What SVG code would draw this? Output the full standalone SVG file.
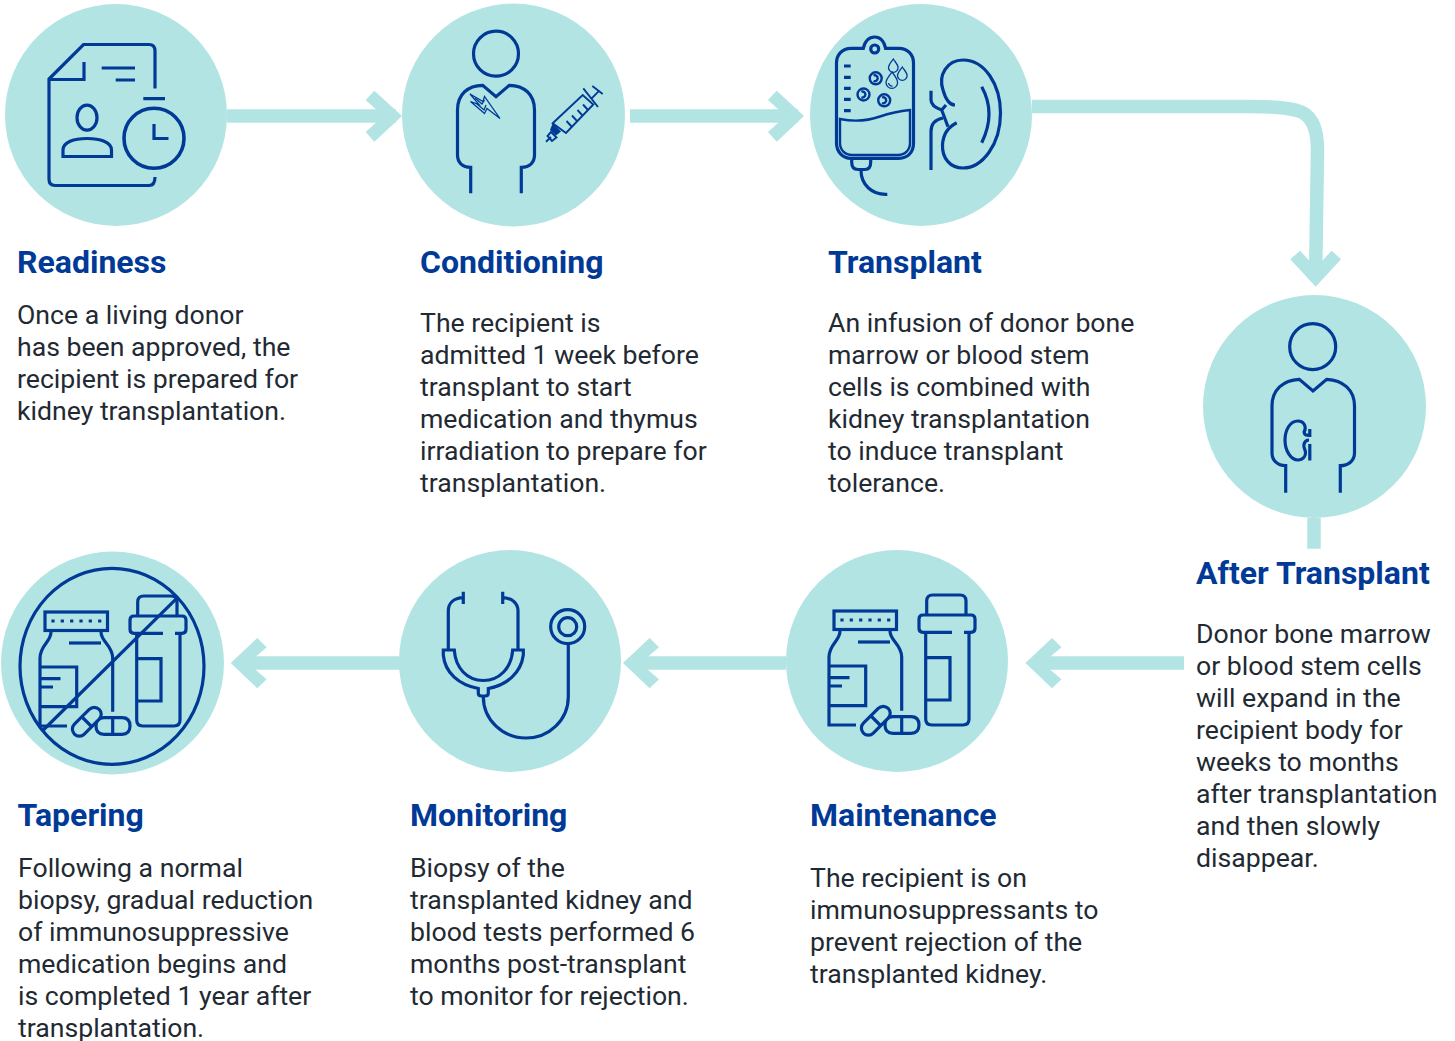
<svg xmlns="http://www.w3.org/2000/svg" width="1455" height="1041" viewBox="0 0 1455 1041">
<style>
.c{fill:#b2e4e3}
.l{fill:none;stroke:#b2e4e3;stroke-width:13.5}
.a{fill:#b2e4e3}
.i{fill:none;stroke:#003a96;stroke-width:3.2}
.t{fill:none;stroke:#003a96;stroke-width:1.3}
.s{fill:none;stroke:#003a96;stroke-width:2.4}
.y{fill:none;stroke:#003a96;stroke-width:1.9}
text{font-family:Roboto,"Liberation Sans",sans-serif}
.h{font-size:32px;font-weight:700;fill:#003a96}
.b{font-size:26.65px;fill:#1f2a33}
</style>
<defs>
<g id="meds">
<g class="i">
<rect x="834" y="611" width="62.5" height="18.5"/>
<path d="M842 620h.01M851.3 620h.01M860.7 620h.01M870 620h.01M879.3 620h.01M888.7 620h.01" stroke-width="3.2" stroke-linecap="square"/>
<path d="M840 629.5V631C840 641 829 644 829 657V725H856"/>
<path d="M890 629.5V631C890 641 901.7 644 901.7 657V710.7"/>
<path d="M858 642H890"/>
<path d="M829 666H865.7V705.7H829M829 677.7H849.5M829 686H842"/>
<path d="M926.7 615V601Q926.7 595 932.7 595H960Q966 595 966 601V615"/>
<path d="M952 632.3H923Q919 632.3 919 628.3V619Q919 615 923 615H971Q975 615 975 619V628.3Q975 632.3 971 632.3H964"/>
<path d="M925.7 632.3V719Q925.7 725 931.7 725H963Q969 725 969 719V632.3"/>
<path d="M925.7 657.7H950V700H925.7"/>
<path d="M893 733.3H911Q919 733.3 919 725T911 716.7H893Q885 716.7 885 725T893 733.3ZM901.7 716.700V733.300"/>
<rect x="858.300" y="713.700" width="35" height="14" rx="7" transform="rotate(-45 875.800 720.700)" fill="#b2e4e3"/>
<path d="M871 716L880.500 725.500"/>
</g>
</g>
</defs>

<g id="connectors">
<path class="l" d="M227 116H396"/>
<polygon class="a" points="365.7,100 374.3,90.7 402,116 374.3,141.7 365.7,132 376.7,122 376.7,110"/>
<path class="l" d="M630 116H798"/>
<polygon class="a" points="768,100 776.7,90.7 804,116 776.7,141.7 768,132 779,122 779,110"/>
<path class="l" d="M1032 106.500H1250C1275 106.500 1288 107.500 1297 110.500C1312 114 1317.500 130 1317.500 150L1315.800 262"/>
<polygon class="a" points="1290.300,259.300 1300,250.700 1309.300,260.700 1322.300,260.700 1331.700,250.700 1341,259.300 1315.700,286.700"/>
<path class="l" d="M1314 518V548.700"/>
<path class="l" d="M1184 663H1035"/>
<polygon class="a" points="1025.500,663 1052,638 1061.400,647.300 1050,657 1050,669.500 1061.400,679.300 1052,688.300"/>
<path class="l" d="M786 663H632"/>
<polygon class="a" points="623,663 649.600,638 659,647.300 647.600,657 647.600,669.500 659,679.300 649.600,688.300"/>
<path class="l" d="M400 663H240"/>
<polygon class="a" points="230.700,663 257.300,638 266.700,647.300 255.300,657 255.300,669.500 266.700,679.300 257.300,688.300"/>
</g>

<g id="readiness">
<circle class="c" cx="116" cy="115" r="111"/>
<g class="i">
<path d="M155 88.500V51Q155 44.500 149 44.500H83.500L49 79V179Q49 185.500 55 185.500H149Q155 185.500 155 177"/>
<path d="M84 62V79.500H49M101.700 68H135M115.700 80H135M143.300 98.700H165"/>
<circle cx="154" cy="138.300" r="30" stroke-width="3.600"/>
<path d="M154 124V138.500H168.500"/>
<ellipse cx="87" cy="117.700" rx="10" ry="12.500"/>
<path d="M63 156.500H111.500V150C111.500 142 100 138.500 87 138.500S63 142 63 150Z"/>
</g>
<text class="h" x="17" y="273">Readiness</text>
<text class="b"><tspan x="17" y="324">Once a living donor</tspan><tspan x="17" y="356">has been approved, the</tspan><tspan x="17" y="388">recipient is prepared for</tspan><tspan x="17" y="420">kidney transplantation.</tspan></text>
</g>

<g id="conditioning">
<circle class="c" cx="513.500" cy="115" r="111.500"/>
<g class="i">
<circle cx="496" cy="53.700" r="22.500"/>
<path d="M470.700 193.300V167.300C462 167.300 457.500 162 457.500 155V110C457.500 94 468 85.500 482.700 85.300L496 96.700L509.300 85.300C524 85.500 534.500 94 534.500 110V155C534.500 162 530 167.300 521.300 167.300V193.300"/>
</g>
<g class="t">
<path d="M470 94L483 101.500L484.500 96.500L500 118.500L487 108.500L484.500 113.500L470.500 101.500L479 104.500Z"/>
<path d="M475 98L482 104L484.500 100M477 104L484 110L486 105"/>
</g>
<g class="y">
<path d="M552.700 123.300L582.700 95L593.300 104.500L566 133Z"/>
<path d="M583.300 88.300L598 107M591.700 98.300L598.300 91.700M592.300 86L602.700 94"/>
<path d="M546 141.700L551 137"/>
<path d="M551 132L556.500 137.500L552 141L547.500 136Z"/>
<path d="M572 127L566.500 121M577.300 121.400L572 115.500M582.600 115.600L577.500 110M588 110L583 104.500"/>
</g>
<path d="M552.700 123.300L561 131.500L556 135.500L550 130Z" fill="#003a96"/>
<text class="h" x="420" y="273">Conditioning</text>
<text class="b"><tspan x="420" y="332">The recipient is</tspan><tspan x="420" y="364">admitted 1 week before</tspan><tspan x="420" y="396">transplant to start</tspan><tspan x="420" y="428">medication and thymus</tspan><tspan x="420" y="460">irradiation to prepare for</tspan><tspan x="420" y="492">transplantation.</tspan></text>
</g>

<g id="transplant">
<circle class="c" cx="921" cy="115" r="111"/>
<g class="i">
<path d="M863.300 48.300H851C842 48.300 836.500 55 836.500 63V143C836.500 152 843 158.300 851 158.300H899C908 158.300 913.500 152 913.500 143V63C913.500 55 908 48.300 899 48.300H885.600C884 41 880 37 874.700 37S865 41 863.300 48.300Z"/>
<circle cx="874.700" cy="49" r="4"/>
<path d="M844 66H850.700M844 77.300H850.700M844 88.300H850.700M844 99.300H850.700M844 110.700H850.700"/>
<path d="M851.700 159.500V162Q851.700 169.500 858 169.500H865Q870.700 169.500 870.700 162V159.500"/>
<path d="M861 170C861 185 872 195 887.300 194.300"/>
</g>
<path class="s" d="M840 119C855 122 870 120 880 116.500C890 113 900 111 910 110V143C910 150 905 155 898 155H852C845 155 840 150 840 143Z"/>
<g class="s">
<circle cx="875.700" cy="78.300" r="6"/><path d="M873.500 75.500A3 3 0 1 1 873.500 81"/>
<circle cx="863.500" cy="94.500" r="6"/><path d="M861.300 91.700A3 3 0 1 1 861.300 97.300"/>
<circle cx="884.200" cy="100.300" r="6"/><path d="M882 97.500A3 3 0 1 1 882 103"/>
</g>
<g class="t">
<path d="M893.300 59C890.500 63 888.500 65 888.500 67.500A4.800 4.800 0 0 0 898.100 67.500C898.100 65 896 63 893.300 59Z"/>
<path d="M902.300 67C899.500 71 897.500 73 897.500 75.500A4.800 4.800 0 0 0 907.100 75.500C907.100 73 905 71 902.300 67Z"/>
<path d="M892 72C888.500 76.500 886 79.500 886 82.500A5.800 5.800 0 0 0 897.600 82.500C897.600 79.500 895.500 76.500 892 72Z"/>
<path d="M888.500 83A3.500 3.500 0 0 0 892.500 86"/>
</g>
<g class="i">
<path d="M955 105C948 105 945 97 943 90C938 75 947 60 963 60C985 60 1000.500 85 1000.500 113C1000.500 145 982 168 963 168C950 168 942 158 942.500 145C943 135 948 127 956.700 122.700"/>
<path d="M981.700 86.700Q996.300 113 981.700 142.700"/>
<path d="M931 90.700V100C931 105 936 108 941.700 110L946 105M941.700 110L948 126.700"/>
<path d="M931 170V131.700C931 124 935 119.500 943 118"/>
</g>
<text class="h" x="828" y="273">Transplant</text>
<text class="b"><tspan x="828" y="332">An infusion of donor bone</tspan><tspan x="828" y="364">marrow or blood stem</tspan><tspan x="828" y="396">cells is combined with</tspan><tspan x="828" y="428">kidney transplantation</tspan><tspan x="828" y="460">to induce transplant</tspan><tspan x="828" y="492">tolerance.</tspan></text>
</g>

<g id="after-transplant">
<circle class="c" cx="1314.500" cy="406.500" r="111.500"/>
<g class="i">
<circle cx="1312.700" cy="346.700" r="23"/>
<path d="M1285.700 492.700V465.700C1277 465.700 1272 460 1272 453V406C1272 390 1283 380 1299.300 379.300L1313 391L1326.700 379.300C1343 380 1354.500 390 1354.500 406V453C1354.500 460 1349 465.700 1340.300 465.700V492.700"/>
</g>
<path class="i" d="M1309 435C1305 436 1303 433 1305 430C1306 425 1303 421 1298 421C1290 421 1285 430 1285 440C1285 451 1291 460 1298 460C1303 460 1306 456 1305.500 452C1305 449 1303 447 1304 444C1305 441 1306 440 1309 440M1309.800 460.500V444M1309.800 429V437" stroke-width="2.800"/>
<text class="h" x="1196" y="584">After Transplant</text>
<text class="b"><tspan x="1196" y="643">Donor bone marrow</tspan><tspan x="1196" y="675">or blood stem cells</tspan><tspan x="1196" y="707">will expand in the</tspan><tspan x="1196" y="739">recipient body for</tspan><tspan x="1196" y="771">weeks to months</tspan><tspan x="1196" y="803">after transplantation</tspan><tspan x="1196" y="835">and then slowly</tspan><tspan x="1196" y="867">disappear.</tspan></text>
</g>

<g id="maintenance">
<circle class="c" cx="897" cy="661" r="111"/>
<use href="#meds"/>
<text class="h" x="810" y="826">Maintenance</text>
<text class="b"><tspan x="810" y="887">The recipient is on</tspan><tspan x="810" y="919">immunosuppressants to</tspan><tspan x="810" y="951">prevent rejection of the</tspan><tspan x="810" y="983">transplanted kidney.</tspan></text>
</g>

<g id="monitoring">
<circle class="c" cx="510" cy="661" r="111"/>
<g class="i">
<path d="M463.300 591.700V604M463.300 597.700C454 598 448.300 603 448.300 611V650M502.700 591.700V604M502.700 597.700C512 598 518 603 518 611V650"/>
<path d="M443.300 650H454.300C455.500 668 467 680.500 483.300 680.500C499.500 680.500 511.500 668 512.700 650H523.300V655C521 673 507 685 488.300 688.500V693Q488.300 696 485.300 696H481.300Q478.300 696 478.300 693V688.500C459 685 445 673 443.300 655Z"/>
<path d="M483.300 696.700C483.300 720 503 738 526 738C549 738 568.300 720 568.300 696.700V645"/>
<circle cx="567.700" cy="626.700" r="17"/>
<circle cx="567.700" cy="626.700" r="9"/>
</g>
<text class="h" x="410" y="826">Monitoring</text>
<text class="b"><tspan x="410" y="877">Biopsy of the</tspan><tspan x="410" y="909">transplanted kidney and</tspan><tspan x="410" y="941">blood tests performed 6</tspan><tspan x="410" y="973">months post-transplant</tspan><tspan x="410" y="1005">to monitor for rejection.</tspan></text>
</g>

<g id="tapering">
<circle class="c" cx="112.500" cy="663" r="111.500"/>
<use href="#meds" transform="translate(-789 1)"/>
<ellipse class="i" cx="112" cy="666.300" rx="92" ry="98"/>
<path class="i" d="M176.700 598.300L43.300 730"/>
<text class="h" x="17.500" y="826">Tapering</text>
<text class="b"><tspan x="18" y="877">Following a normal</tspan><tspan x="18" y="909">biopsy, gradual reduction</tspan><tspan x="18" y="941">of immunosuppressive</tspan><tspan x="18" y="973">medication begins and</tspan><tspan x="18" y="1005">is completed 1 year after</tspan><tspan x="18" y="1037">transplantation.</tspan></text>
</g>
</svg>
